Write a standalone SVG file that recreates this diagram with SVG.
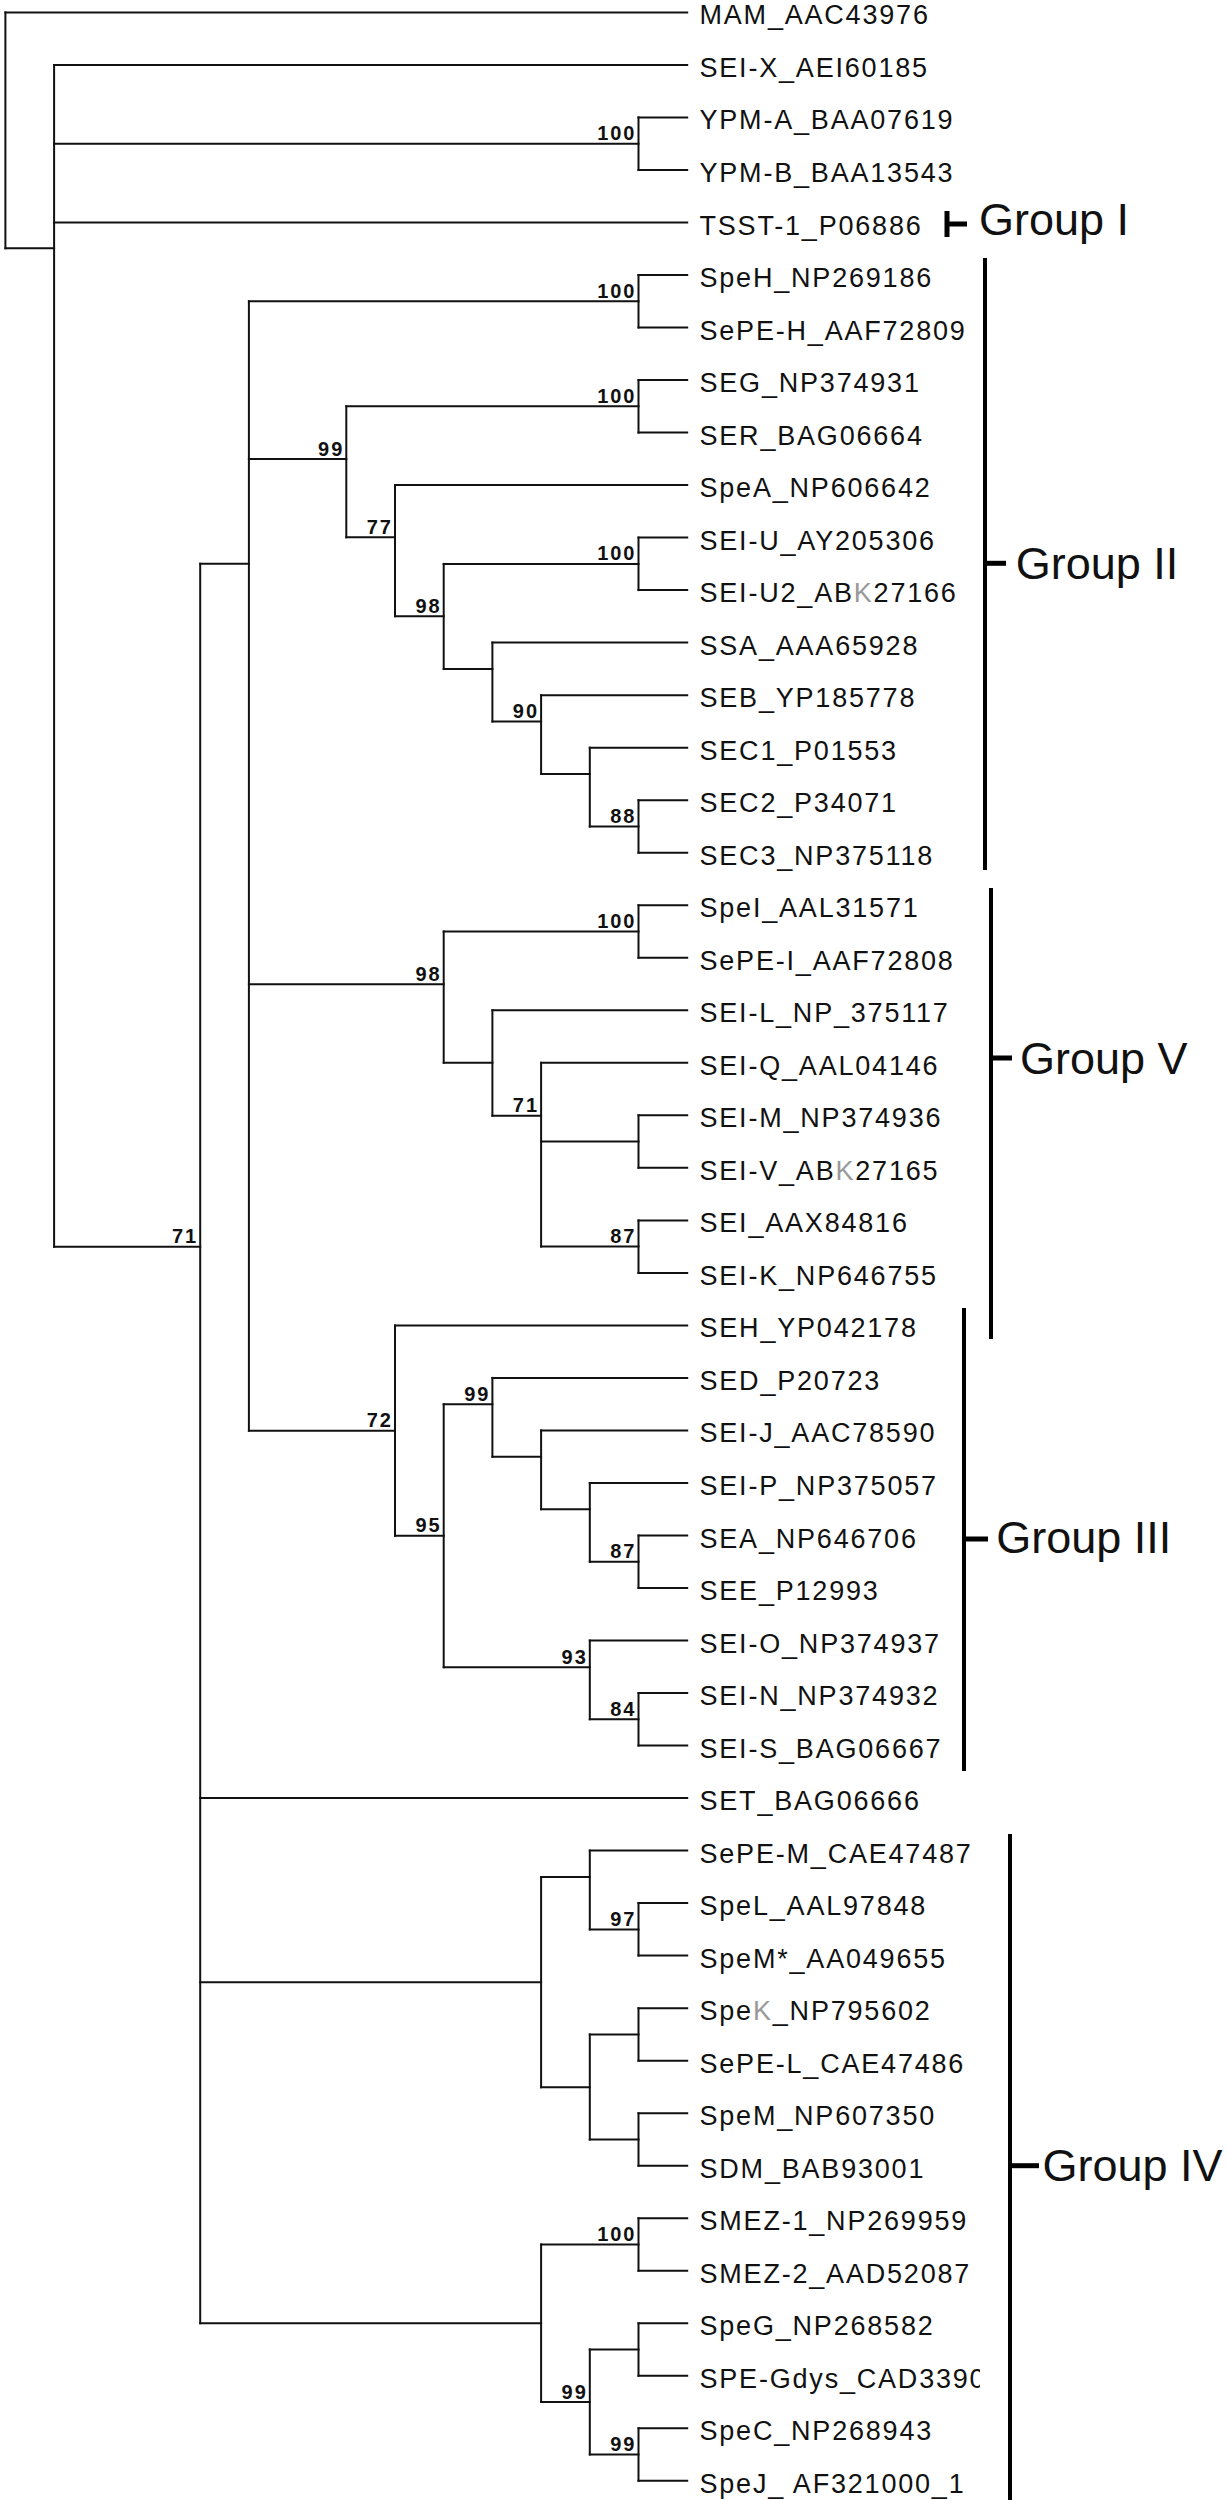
<svg xmlns="http://www.w3.org/2000/svg" width="1229" height="2500" viewBox="0 0 1229 2500">
<style>
.br{stroke:#111;stroke-width:2;fill:none;stroke-linecap:square}
.lf{font-family:"Liberation Sans",Arial,sans-serif;font-size:27px;letter-spacing:1.8px;fill:#111}
.bs{font-family:"Liberation Sans",Arial,sans-serif;font-size:20px;font-weight:bold;letter-spacing:2px;fill:#111;text-anchor:end}
.gb{stroke:#000;stroke-width:4;fill:none}
.gt{stroke:#000;stroke-width:5;fill:none}
.gl{font-family:"Liberation Sans",Arial,sans-serif;font-size:45px;fill:#111}
.gk{fill:#999}
</style>
<defs><clipPath id="cl"><rect x="0" y="0" width="980" height="2500"/></clipPath></defs>
<g id="connectors" class="br">
<path d="M5.4,12.4H687.2 M5.4,248.3H54.1 M54.1,64.9H687.2 M54.1,143.7H638.5 M638.5,117.4H687.2 M638.5,170H687.2 M54.1,222.5H687.2 M54.1,1246.7H200.2"/>
<path d="M200.2,563.7H248.9 M248.9,301.3H638.5 M638.5,275H687.2 M638.5,327.5H687.2 M248.9,459H346.3 M346.3,406.3H638.5 M638.5,380H687.2 M638.5,432.6H687.2 M346.3,537.3H395 M395,485.1H687.2 M395,616.3H443.7 M443.7,563.9H638.5 M638.5,537.6H687.2 M638.5,590.1H687.2 M443.7,668.9H492.4 M492.4,642.6H687.2 M492.4,721.5H541.1 M541.1,695.2H687.2 M541.1,774H589.8 M589.8,747.7H687.2 M589.8,826.5H638.5 M638.5,800.2H687.2 M638.5,852.7H687.2"/>
<path d="M248.9,984.3H443.7 M443.7,931.5H638.5 M638.5,905.2H687.2 M638.5,957.8H687.2 M443.7,1062.7H492.4 M492.4,1010.3H687.2 M492.4,1115.7H541.1 M541.1,1062.8H687.2 M541.1,1141.6H638.5 M638.5,1115.3H687.2 M638.5,1167.8H687.2 M541.1,1246.6H638.5 M638.5,1220.4H687.2 M638.5,1272.9H687.2"/>
<path d="M248.9,1430.7H395 M395,1325.4H687.2 M395,1535.7H443.7 M443.7,1404.3H492.4 M492.4,1377.9H687.2 M492.4,1456.7H541.1 M541.1,1430.4H687.2 M541.1,1509.3H589.8 M589.8,1483H687.2 M589.8,1561.8H638.5 M638.5,1535.5H687.2 M638.5,1588H687.2 M443.7,1667.3H589.8 M589.8,1640.5H687.2 M589.8,1719.3H638.5 M638.5,1693H687.2 M638.5,1745.6H687.2"/>
<path d="M200.2,1798.1H687.2 M200.2,1982.3H541.1 M541.1,1877H589.8 M589.8,1850.6H687.2 M589.8,1929.4H638.5 M638.5,1903.1H687.2 M638.5,1955.6H687.2 M541.1,2087.3H589.8 M589.8,2034.5H638.5 M638.5,2008.2H687.2 M638.5,2060.7H687.2 M589.8,2139.5H638.5 M638.5,2113.2H687.2 M638.5,2165.7H687.2"/>
<path d="M200.2,2323.3H541.1 M541.1,2244.5H638.5 M638.5,2218.2H687.2 M638.5,2270.8H687.2 M541.1,2402H589.8 M589.8,2349.5H638.5 M638.5,2323.3H687.2 M638.5,2375.8H687.2 M589.8,2454.5H638.5 M638.5,2428.3H687.2 M638.5,2480.8H687.2"/>
</g>
<g id="internal-nodes" class="br">
<g id="n-root"><path d="M5.4,12.4V248.3"/></g>
<g id="n-A"><path d="M54.1,64.9V1246.7"/></g>
<g id="n-YPM"><path d="M638.5,117.4V170"/><text class="bs" x="636.5" y="140.2" stroke="none">100</text></g>
<g id="n-71"><path d="M200.2,563.7V2323.3"/><text class="bs" x="198.2" y="1243.2" stroke="none">71</text></g>
<g id="n-B"><path d="M248.9,301.3V1430.7"/></g>
<g id="n-SpeH"><path d="M638.5,275V327.5"/><text class="bs" x="636.5" y="297.8" stroke="none">100</text></g>
<g id="n-99a"><path d="M346.3,406.3V537.3"/><text class="bs" x="344.3" y="455.5" stroke="none">99</text></g>
<g id="n-SEG"><path d="M638.5,380V432.6"/><text class="bs" x="636.5" y="402.8" stroke="none">100</text></g>
<g id="n-77"><path d="M395,485.1V616.3"/><text class="bs" x="393" y="533.8" stroke="none">77</text></g>
<g id="n-98a"><path d="M443.7,563.9V668.9"/><text class="bs" x="441.7" y="612.8" stroke="none">98</text></g>
<g id="n-SEIU"><path d="M638.5,537.6V590.1"/><text class="bs" x="636.5" y="560.4" stroke="none">100</text></g>
<g id="n-SSA"><path d="M492.4,642.6V721.5"/></g>
<g id="n-90"><path d="M541.1,695.2V774"/><text class="bs" x="539.1" y="718" stroke="none">90</text></g>
<g id="n-SEC1"><path d="M589.8,747.7V826.5"/></g>
<g id="n-88"><path d="M638.5,800.2V852.7"/><text class="bs" x="636.5" y="823" stroke="none">88</text></g>
<g id="n-98b"><path d="M443.7,931.5V1062.7"/><text class="bs" x="441.7" y="980.8" stroke="none">98</text></g>
<g id="n-SpeI"><path d="M638.5,905.2V957.8"/><text class="bs" x="636.5" y="928" stroke="none">100</text></g>
<g id="n-SEIL"><path d="M492.4,1010.3V1115.7"/></g>
<g id="n-71b"><path d="M541.1,1062.8V1246.6"/><text class="bs" x="539.1" y="1112.2" stroke="none">71</text></g>
<g id="n-SEIM"><path d="M638.5,1115.3V1167.8"/></g>
<g id="n-87a"><path d="M638.5,1220.4V1272.9"/><text class="bs" x="636.5" y="1243.1" stroke="none">87</text></g>
<g id="n-72"><path d="M395,1325.4V1535.7"/><text class="bs" x="393" y="1427.2" stroke="none">72</text></g>
<g id="n-95"><path d="M443.7,1404.3V1667.3"/><text class="bs" x="441.7" y="1532.2" stroke="none">95</text></g>
<g id="n-99c"><path d="M492.4,1377.9V1456.7"/><text class="bs" x="490.4" y="1400.8" stroke="none">99</text></g>
<g id="n-SEIJ"><path d="M541.1,1430.4V1509.3"/></g>
<g id="n-SEIP"><path d="M589.8,1483V1561.8"/></g>
<g id="n-87b"><path d="M638.5,1535.5V1588"/><text class="bs" x="636.5" y="1558.3" stroke="none">87</text></g>
<g id="n-93"><path d="M589.8,1640.5V1719.3"/><text class="bs" x="587.8" y="1663.8" stroke="none">93</text></g>
<g id="n-84"><path d="M638.5,1693V1745.6"/><text class="bs" x="636.5" y="1715.8" stroke="none">84</text></g>
<g id="n-IVa"><path d="M541.1,1877V2087.3"/></g>
<g id="n-SePEM"><path d="M589.8,1850.6V1929.4"/></g>
<g id="n-97"><path d="M638.5,1903.1V1955.6"/><text class="bs" x="636.5" y="1925.9" stroke="none">97</text></g>
<g id="n-IVa2"><path d="M589.8,2034.5V2139.5"/></g>
<g id="n-SpeK"><path d="M638.5,2008.2V2060.7"/></g>
<g id="n-SpeM"><path d="M638.5,2113.2V2165.7"/></g>
<g id="n-IVb"><path d="M541.1,2244.5V2402"/></g>
<g id="n-SMEZ"><path d="M638.5,2218.2V2270.8"/><text class="bs" x="636.5" y="2241" stroke="none">100</text></g>
<g id="n-99d"><path d="M589.8,2349.5V2454.5"/><text class="bs" x="587.8" y="2398.5" stroke="none">99</text></g>
<g id="n-SpeG"><path d="M638.5,2323.3V2375.8"/></g>
<g id="n-99e"><path d="M638.5,2428.3V2480.8"/><text class="bs" x="636.5" y="2451" stroke="none">99</text></g>
</g>
<g id="leaves" clip-path="url(#cl)">
<g id="leaf-1"><text class="lf" x="699.5" y="24.4">MAM_AAC43976</text></g>
<g id="leaf-2"><text class="lf" x="699.5" y="76.9">SEI-X_AEI60185</text></g>
<g id="leaf-3"><text class="lf" x="699.5" y="129.4">YPM-A_BAA07619</text></g>
<g id="leaf-4"><text class="lf" x="699.5" y="182">YPM-B_BAA13543</text></g>
<g id="leaf-5"><text class="lf" x="699.5" y="234.5">TSST-1_P06886</text></g>
<g id="leaf-6"><text class="lf" x="699.5" y="287">SpeH_NP269186</text></g>
<g id="leaf-7"><text class="lf" x="699.5" y="339.5">SePE-H_AAF72809</text></g>
<g id="leaf-8"><text class="lf" x="699.5" y="392">SEG_NP374931</text></g>
<g id="leaf-9"><text class="lf" x="699.5" y="444.6">SER_BAG06664</text></g>
<g id="leaf-10"><text class="lf" x="699.5" y="497.1">SpeA_NP606642</text></g>
<g id="leaf-11"><text class="lf" x="699.5" y="549.6">SEI-U_AY205306</text></g>
<g id="leaf-12"><text class="lf" x="699.5" y="602.1">SEI-U2_AB<tspan class="gk">K</tspan>27166</text></g>
<g id="leaf-13"><text class="lf" x="699.5" y="654.6">SSA_AAA65928</text></g>
<g id="leaf-14"><text class="lf" x="699.5" y="707.2">SEB_YP185778</text></g>
<g id="leaf-15"><text class="lf" x="699.5" y="759.7">SEC1_P01553</text></g>
<g id="leaf-16"><text class="lf" x="699.5" y="812.2">SEC2_P34071</text></g>
<g id="leaf-17"><text class="lf" x="699.5" y="864.7">SEC3_NP375118</text></g>
<g id="leaf-18"><text class="lf" x="699.5" y="917.2">SpeI_AAL31571</text></g>
<g id="leaf-19"><text class="lf" x="699.5" y="969.8">SePE-I_AAF72808</text></g>
<g id="leaf-20"><text class="lf" x="699.5" y="1022.3">SEI-L_NP_375117</text></g>
<g id="leaf-21"><text class="lf" x="699.5" y="1074.8">SEI-Q_AAL04146</text></g>
<g id="leaf-22"><text class="lf" x="699.5" y="1127.3">SEI-M_NP374936</text></g>
<g id="leaf-23"><text class="lf" x="699.5" y="1179.8">SEI-V_AB<tspan class="gk">K</tspan>27165</text></g>
<g id="leaf-24"><text class="lf" x="699.5" y="1232.4">SEI_AAX84816</text></g>
<g id="leaf-25"><text class="lf" x="699.5" y="1284.9">SEI-K_NP646755</text></g>
<g id="leaf-26"><text class="lf" x="699.5" y="1337.4">SEH_YP042178</text></g>
<g id="leaf-27"><text class="lf" x="699.5" y="1389.9">SED_P20723</text></g>
<g id="leaf-28"><text class="lf" x="699.5" y="1442.4">SEI-J_AAC78590</text></g>
<g id="leaf-29"><text class="lf" x="699.5" y="1495">SEI-P_NP375057</text></g>
<g id="leaf-30"><text class="lf" x="699.5" y="1547.5">SEA_NP646706</text></g>
<g id="leaf-31"><text class="lf" x="699.5" y="1600">SEE_P12993</text></g>
<g id="leaf-32"><text class="lf" x="699.5" y="1652.5">SEI-O_NP374937</text></g>
<g id="leaf-33"><text class="lf" x="699.5" y="1705">SEI-N_NP374932</text></g>
<g id="leaf-34"><text class="lf" x="699.5" y="1757.6">SEI-S_BAG06667</text></g>
<g id="leaf-35"><text class="lf" x="699.5" y="1810.1">SET_BAG06666</text></g>
<g id="leaf-36"><text class="lf" x="699.5" y="1862.6">SePE-M_CAE47487</text></g>
<g id="leaf-37"><text class="lf" x="699.5" y="1915.1">SpeL_AAL97848</text></g>
<g id="leaf-38"><text class="lf" x="699.5" y="1967.6">SpeM*_AA049655</text></g>
<g id="leaf-39"><text class="lf" x="699.5" y="2020.2">Spe<tspan class="gk">K</tspan>_NP795602</text></g>
<g id="leaf-40"><text class="lf" x="699.5" y="2072.7">SePE-L_CAE47486</text></g>
<g id="leaf-41"><text class="lf" x="699.5" y="2125.2">SpeM_NP607350</text></g>
<g id="leaf-42"><text class="lf" x="699.5" y="2177.7">SDM_BAB93001</text></g>
<g id="leaf-43"><text class="lf" x="699.5" y="2230.2">SMEZ-1_NP269959</text></g>
<g id="leaf-44"><text class="lf" x="699.5" y="2282.8">SMEZ-2_AAD52087</text></g>
<g id="leaf-45"><text class="lf" x="699.5" y="2335.3">SpeG_NP268582</text></g>
<g id="leaf-46"><text class="lf" x="699.5" y="2387.8">SPE-Gdys_CAD3390</text></g>
<g id="leaf-47"><text class="lf" x="699.5" y="2440.3">SpeC_NP268943</text></g>
<g id="leaf-48"><text class="lf" x="699.5" y="2492.8">SpeJ_ AF321000_1</text></g>
</g>
<g id="group-I"><path class="gt" d="M947,211V237 M947,224H967"/><text class="gl" x="979" y="235">Group I</text></g>
<g id="group-II"><path class="gb" d="M985,258V870"/><path class="gt" d="M985,563.3H1006"/><text class="gl" x="1015.7" y="579">Group II</text></g>
<g id="group-V"><path class="gb" d="M991,888V1339"/><path class="gt" d="M991,1058H1012"/><text class="gl" x="1020" y="1073.5">Group V</text></g>
<g id="group-III"><path class="gb" d="M964,1308V1771"/><path class="gt" d="M964,1539H988"/><text class="gl" x="996.3" y="1553.3">Group III</text></g>
<g id="group-IV"><path class="gb" d="M1010,1834V2500"/><path class="gt" d="M1010,2165.7H1039"/><text class="gl" x="1042.4" y="2181">Group IV</text></g>
</svg>
